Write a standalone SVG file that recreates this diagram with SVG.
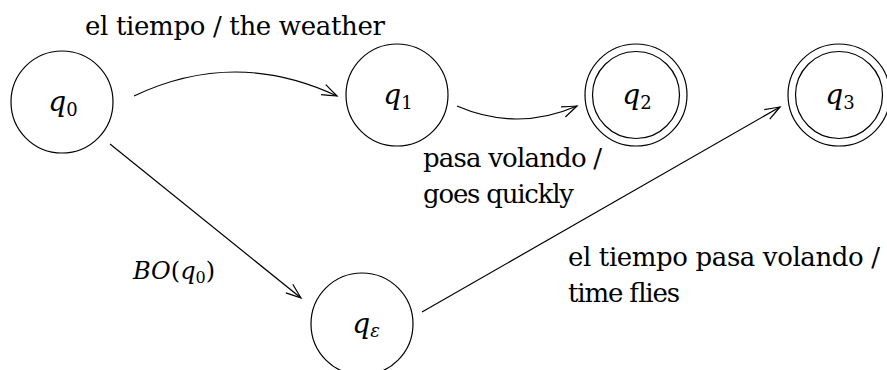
<svg xmlns="http://www.w3.org/2000/svg" width="887" height="370" viewBox="0 0 887 370">
<style>
  .st { fill: none; stroke: #000; stroke-width: 1.2; }
  .lbl { font-family: 'DejaVu Serif', serif; font-size: 26px; fill: #000; }
  .m { font-family: 'DejaVu Serif', serif; font-size: 28px; font-style: italic; fill: #000; }
  .bo { font-family: 'DejaVu Serif', serif; font-size: 24px; font-style: italic; fill: #000; }
  .sub { font-size: 18px; font-style: normal; }
  .subb { font-size: 16px; font-style: normal; }
  .subi { font-size: 18px; font-style: italic; }
  .up { font-style: normal; }
</style>
<defs>
  <marker id="arr" markerUnits="userSpaceOnUse" markerWidth="20" markerHeight="16" refX="0" refY="0" viewBox="-17 -8 19 16" orient="auto">
    <path d="M -15 -5.5 Q -7 -2.5 0 0 Q -7 2.5 -15 5.5" fill="none" stroke="#000" stroke-width="1.2"/>
  </marker>
</defs>
<rect width="887" height="370" fill="#fff"/>

<g id="q0">
  <circle class="st" cx="62" cy="102" r="51"/>
  <text class="m" x="63" y="111" text-anchor="middle">q<tspan class="sub" dy="5">0</tspan></text>
</g>
<g id="q1">
  <circle class="st" cx="397" cy="95" r="51"/>
  <text class="m" x="398" y="104" text-anchor="middle">q<tspan class="sub" dy="5">1</tspan></text>
</g>
<g id="q2">
  <circle class="st" cx="636" cy="95" r="51"/>
  <circle class="st" cx="636" cy="95" r="43.5"/>
  <text class="m" x="637" y="104" text-anchor="middle">q<tspan class="sub" dy="5">2</tspan></text>
</g>
<g id="q3">
  <circle class="st" cx="839" cy="95" r="51"/>
  <circle class="st" cx="839" cy="95" r="43.5"/>
  <text class="m" x="840" y="104" text-anchor="middle">q<tspan class="sub" dy="5">3</tspan></text>
</g>
<g id="qe">
  <circle class="st" cx="362" cy="324" r="51"/>
  <text class="m" x="366" y="333" text-anchor="middle">q<tspan class="subi" dy="4">ε</tspan></text>
</g>

<g id="connectors">
  <path class="st" d="M134,96 Q235,48 337,96" marker-end="url(#arr)"/>
  <path class="st" d="M457,106 Q517,132 577,106" marker-end="url(#arr)"/>
  <path class="st" d="M110,144 L301,298" marker-end="url(#arr)"/>
  <path class="st" d="M422,312 L780,107" marker-end="url(#arr)"/>
</g>

<g id="labels">
  <text class="lbl" x="85" y="35" textLength="300" lengthAdjust="spacing">el tiempo / the weather</text>
  <text class="lbl" x="423" y="167" textLength="179" lengthAdjust="spacing">pasa volando /</text>
  <text class="lbl" x="423" y="203" textLength="151" lengthAdjust="spacing">goes quickly</text>
  <text class="bo" x="133" y="279">BO<tspan class="up">(</tspan>q<tspan class="subb" dy="4">0</tspan><tspan class="up" dy="-4">)</tspan></text>
  <text class="lbl" x="568" y="266" textLength="312" lengthAdjust="spacing">el tiempo pasa volando /</text>
  <text class="lbl" x="568" y="302" textLength="112" lengthAdjust="spacing">time flies</text>
</g>
</svg>
